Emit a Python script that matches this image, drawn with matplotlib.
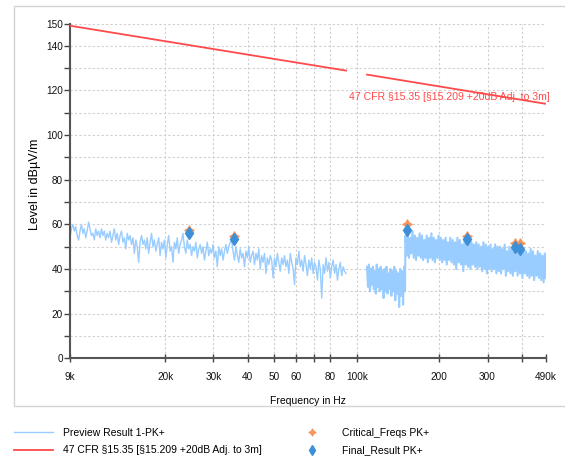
import numpy as np
import matplotlib
matplotlib.use("Agg")
import matplotlib.pyplot as plt
from matplotlib.patches import Rectangle
from matplotlib.ticker import FixedLocator, NullLocator

plt.rcParams["font.family"] = ["Liberation Sans", "DejaVu Sans"]

# ---------------- preview scan (dBuV/m) ----------------
# 9 kHz .. 91 kHz, single trace
scan_a_start, scan_a_stop = 9.0e3, 91.4e3
scan_a_level = [
    54, 58, 60, 57, 59, 55, 53, 57, 60, 56, 58, 54, 57, 61, 58, 55, 56, 53, 58, 55, 57, 54,
    58, 55, 57, 53, 56, 54, 57, 52, 55, 58, 53, 56, 51, 55, 57, 52, 54, 49, 56, 53, 55, 51,
    54, 47, 53, 50, 43, 52,
    55, 51, 53, 49, 54, 47, 52, 56, 50, 53, 48, 51, 54, 46, 52, 49, 53, 45, 51, 55, 48, 50,
    43, 52, 49, 54, 47, 51, 53, 56,
    50, 47, 53, 49, 51, 46, 50, 48, 52, 45, 49, 51, 47, 50, 44, 48, 52, 46, 49, 47, 51, 45,
    48, 41, 50, 46, 49, 44, 48, 51, 47, 50, 52, 53,
    48, 44, 50, 46, 43, 49, 45, 47, 41, 48, 45, 50, 43, 46, 48, 42, 47, 44, 49, 40, 46, 43,
    47, 38, 45, 42, 46, 44, 36, 45, 41, 47, 43, 39, 45, 42,
    46, 41, 44, 38, 47, 43, 40, 33, 45, 42, 48, 41, 44, 39, 46, 42, 37, 44, 40, 45, 38, 43,
    41, 35, 44, 40, 27, 42, 38, 45, 39, 43, 36, 41, 44, 38, 42, 35, 40, 43, 37, 41, 39, 38,
]

# 109 kHz .. 150 kHz, dense band (upper / lower excursions)
scan_b_start, scan_b_stop = 109e3, 150e3
scan_b_hi = [41, 42, 40, 41, 39, 42, 40, 41, 39, 40, 41, 38, 40, 39, 41, 39, 38, 40, 39, 41]
scan_b_lo = [32, 30, 33, 31, 29, 32, 30, 31, 27, 30, 29, 31, 28, 30, 26, 29, 23, 28, 24, 30]

# 150 kHz .. 490 kHz, dense band
scan_c_start, scan_c_stop = 150.5e3, 490e3
scan_c_hi = [
    55, 56, 54, 57, 55, 54, 56, 55, 53, 55, 54, 56, 54, 53, 55, 54, 53, 54, 52, 54,
    53, 52, 54, 53, 51, 53, 52, 54, 52, 51, 52, 51, 50, 52, 51, 50, 51, 49, 51, 50,
    50, 49, 51, 48, 50, 49, 48, 50, 49, 47, 49, 48, 47, 49, 48, 46, 48, 47, 46, 47,
]
scan_c_lo = [
    46, 45, 47, 45, 44, 46, 45, 44, 45, 43, 45, 44, 43, 45, 44, 43, 44, 42, 44, 43,
    42, 40, 43, 42, 39, 42, 41, 40, 42, 41, 40, 41, 39, 40, 38, 40, 39, 40, 38, 39,
    38, 40, 37, 39, 38, 37, 39, 37, 38, 36, 38, 37, 36, 37, 35, 37, 36, 35, 34, 36,
]

# ---------------- limit line ----------------
limit_f1 = [9.0e3, 91.4e3]
limit_l1 = [149.0, 128.9]
limit_f2 = [109e3, 490e3]
limit_l2 = [127.1, 114.0]
limit_name = "47 CFR §15.35 [§15.209 +20dB Adj. to 3m]"

# ---------------- markers ----------------
crit_freq = [24.4e3, 35.7e3, 152.8e3, 252e3, 377e3, 394e3]
crit_level = [57.6, 54.9, 60.0, 54.9, 51.5, 51.5]
final_freq = [24.4e3, 35.7e3, 152.8e3, 252e3, 377e3, 394e3]
final_level = [56.3, 53.3, 57.6, 53.6, 50.0, 49.1]

xtick_pos = [9e3, 2e4, 3e4, 4e4, 5e4, 6e4, 7e4, 8e4, 1e5, 2e5, 3e5, 4e5, 4.9e5]
xtick_lab = ["9k", "20k", "30k", "40", "50", "60", "", "80", "100k", "200", "300", "", "490k"]
ytick_major = [0, 20, 40, 60, 80, 100, 120, 140, 150]
ytick_minor = [10, 30, 50, 70, 90, 110, 130]

W, H = 565, 470
fig = plt.figure(figsize=(W / 100, H / 100), dpi=100)

# light frame around the plot area
fig.patches.append(Rectangle((14 / W, 1 - 405.5 / H), 1.0, (405.5 - 5.5) / H,
                             transform=fig.transFigure, facecolor="none",
                             edgecolor="#d4d4d4", linewidth=1.0))

ax = fig.add_axes([70 / W, 1 - 358.3 / H, 476 / W, 334.8 / H])
ax.set_xscale("log")
ax.set_xlim(9e3, 490e3)
ax.set_ylim(0, 150)

trace_col = "#99ccff"
fa = np.geomspace(scan_a_start, scan_a_stop, len(scan_a_level))
ax.plot(fa, scan_a_level, color=trace_col, lw=1.0, zorder=2)

lb = np.ravel(np.column_stack([scan_b_hi, scan_b_lo]))
lc = np.ravel(np.column_stack([scan_c_hi, scan_c_lo]))
fb = np.geomspace(scan_b_start, scan_b_stop, len(lb))
fc = np.geomspace(scan_c_start, scan_c_stop, len(lc))
ax.plot(np.concatenate([fb, fc]), np.concatenate([lb, lc]),
        color=trace_col, lw=1.5, zorder=2)
pv, = ax.plot([], [], color=trace_col, lw=1.0, label="Preview Result 1-PK+")

lim_col = "#ff4a4a"
lm, = ax.plot(limit_f1, limit_l1, color=lim_col, lw=1.3, zorder=3, label=limit_name)
ax.plot(limit_f2, limit_l2, color=lim_col, lw=1.3, zorder=3)
ax.text(93.7e3, 117, limit_name, color=lim_col, fontsize=7.6, ha="left", va="center",
        clip_on=False)

cr, = ax.plot(crit_freq, crit_level, ls="none", marker=(4, 1, 0), ms=7, mfc="#f7945a",
              mec="#f7945a", mew=0.8, zorder=4, label="Critical_Freqs PK+")
fr, = ax.plot(final_freq, final_level, ls="none", marker="d", ms=6.5, mfc="#3d8fd8",
              mec="#3d8fd8", zorder=5, label="Final_Result PK+")

# axes, ticks, grid
ax.xaxis.set_major_locator(FixedLocator(xtick_pos))
ax.xaxis.set_minor_locator(NullLocator())
ax.set_xticklabels(xtick_lab)
ax.yaxis.set_major_locator(FixedLocator(ytick_major))
ax.yaxis.set_minor_locator(FixedLocator(ytick_minor))

for s in ("top", "right"):
    ax.spines[s].set_visible(False)
for s in ("left", "bottom"):
    ax.spines[s].set_color("#555555")
    ax.spines[s].set_linewidth(1.5)

ax.tick_params(axis="x", which="major", direction="inout", length=6, width=1,
               color="#444444", labelsize=7.2, pad=7, labelcolor="#111111")
ax.tick_params(axis="y", which="both", direction="out", length=4, width=1,
               color="#444444", labelsize=7.2, pad=1, labelcolor="#111111")

ax.grid(True, which="both", color="#cfcfcf", ls=(0, (2, 2)), lw=0.8, zorder=0)
ax.set_axisbelow(True)

ax.set_xlabel("Frequency in Hz", fontsize=7.5, labelpad=10)
ax.set_ylabel("Level in dBµV/m", fontsize=9)
ax.yaxis.set_label_coords(-0.061, 0.519)

fig.legend(handles=[pv, lm, cr, fr], ncol=2, loc="upper left",
           bbox_to_anchor=(14 / W, 1 - 428 / H), frameon=False, fontsize=7.5,
           handlelength=3.75, handletextpad=1.0, columnspacing=2.9,
           borderpad=0, borderaxespad=0, labelspacing=0.7, markerscale=0.75)

fig.savefig("out.png", dpi=100)
